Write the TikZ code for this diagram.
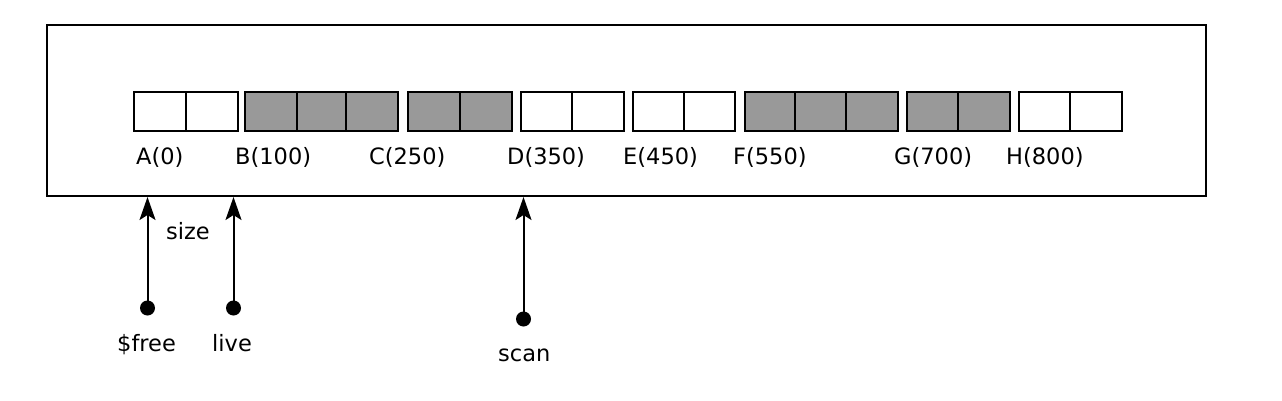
\documentclass[tikz,border=0pt]{standalone}
\usepackage{fontspec}
\setmainfont{DejaVu Sans}
\usetikzlibrary{arrows.meta}
\definecolor{cellgray}{HTML}{999999}
\begin{document}
\begin{tikzpicture}[x=1pt,y=-1pt,
  cellbox/.style={draw=black, line width=2pt, minimum height=39pt, inner sep=0pt, anchor=west},
  lbl/.style={font=\fontsize{22.5}{26}\selectfont, inner sep=0pt, anchor=base west},
  pointer/.style={line width=2pt, -{Stealth[length=23pt,width=16pt,inset=5pt]}},
  dotnode/.style={circle, fill=black, inner sep=0pt, minimum size=15pt}]
\useasboundingbox (0,0) rectangle (1282,400);
\node[draw=black, line width=2pt, minimum width=1159pt, minimum height=171pt, inner sep=0pt] (frame) at (626.5,110.5) {};
\foreach \i/\l/\r/\f in {1/133/185/white, 2/185/237/white, 3/244/296/cellgray, 4/296/345/cellgray, 5/345/397/cellgray, 6/407/459/cellgray, 7/459/511/cellgray, 8/520/571/white, 9/571/623/white, 10/632/683/white, 11/683/734/white, 12/744/794/cellgray, 13/794/845/cellgray, 14/845/897/cellgray, 15/906/957/cellgray, 16/957/1009/cellgray, 17/1018/1069/white, 18/1069/1121/white}{
  \pgfmathsetmacro{\w}{\r-\l}
  \node[cellbox, fill=\f, minimum width=\w pt] (c\i) at (\l,111.5) {};
}
\node[lbl] (la) at (136,164) {A(0)};
\node[lbl] (lb) at (235,164) {B(100)};
\node[lbl] (lc) at (369,164) {C(250)};
\node[lbl] (ld) at (507,164) {D(350)};
\node[lbl] (le) at (623,164) {E(450)};
\node[lbl] (lf) at (733,164) {F(550)};
\node[lbl] (lg) at (894,164) {G(700)};
\node[lbl] (lh) at (1006,164) {H(800)};
\node[dotnode] (dfree) at (147.5,308) {};
\node[dotnode] (dlive) at (233.5,308) {};
\node[dotnode] (dscan) at (523.5,319) {};
\draw[pointer] (dfree.center) -- (dfree.center |- frame.south);
\draw[pointer] (dlive.center) -- (dlive.center |- frame.south);
\draw[pointer] (dscan.center) -- (dscan.center |- frame.south);
\node[lbl] (lsize) at (166,239) {size};
\node[lbl] (lfree) at (117,351) {\$free};
\node[lbl] (llive) at (212,351) {live};
\node[lbl] (lscan) at (498,361) {scan};
\end{tikzpicture}
\end{document}
